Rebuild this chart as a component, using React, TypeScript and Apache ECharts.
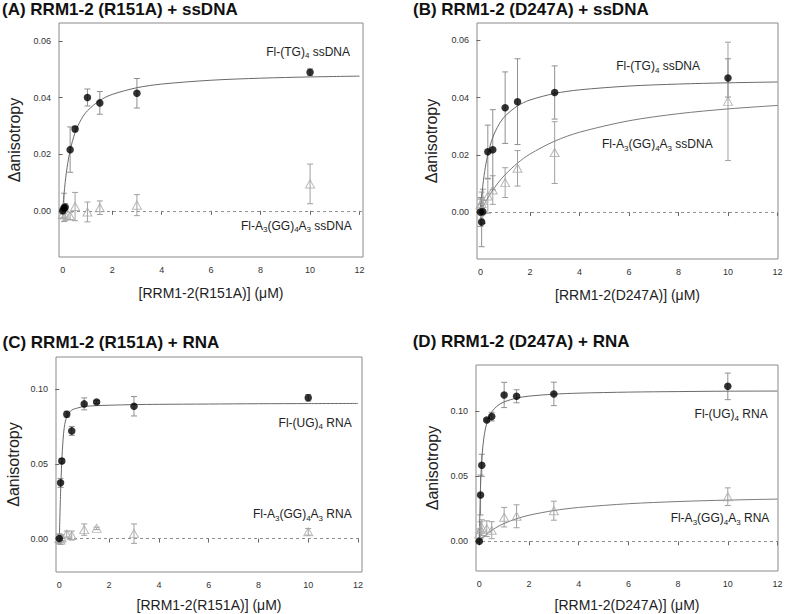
import { useEffect, useRef } from "react";
import * as echarts from "echarts";

// concentrations (uM) of the measured points
const conc = [0, 0.05, 0.1, 0.3, 0.5, 1, 1.5, 3, 10];
const fitX = [0, 0.05, 0.1, 0.15, 0.2, 0.3, 0.5, 0.75, 1, 1.5, 2, 3, 4, 6, 8, 10, 12];
const xTicks = [0, 2, 4, 6, 8, 10, 12];
const yTicksDNA = [0, 0.02, 0.04, 0.06];
const yTicksRNA = [0, 0.05, 0.1];

// (A) R151A + ssDNA
const aTG = [0, 0.001, 0.0013, 0.0216, 0.0289, 0.04, 0.0381, 0.0415, 0.0489];
const aTGErr = [0.001, 0.001, 0.0012, 0.008, 0.001, 0.003, 0.004, 0.0052, 0.0012];
const aGG = [-0.0013, 0.0012, -0.0015, -0.0018, 0.0015, -0.0004, 0.0011, 0.002, 0.0095];
const aGGErr = [0.0012, 0.005, 0.002, 0.0013, 0.005, 0.0035, 0.0024, 0.0037, 0.007];
const aTGFit = [0, 0.00558, 0.01002, 0.01364, 0.01664, 0.02135, 0.02758, 0.0323, 0.03532, 0.03897, 0.04109, 0.04345, 0.04474, 0.0461, 0.04682, 0.04726, 0.04755];

// (B) D247A + ssDNA
const bTG = [0, -0.0035, 0.0001, 0.0211, 0.0218, 0.0365, 0.0386, 0.0418, 0.0469];
const bTGErr = [0.005, 0.0086, 0.004, 0.0093, 0.014, 0.0125, 0.015, 0.0093, 0.0067];
const bGG = [0.0025, 0.003, 0.004, 0.0056, 0.0077, 0.0103, 0.0153, 0.0208, 0.0387];
const bGGErr = [0.002, 0.004, 0.004, 0.006, 0.005, 0.0052, 0.0062, 0.0108, 0.0207];
const bTGFit = [0, 0.00522, 0.0094, 0.01282, 0.01567, 0.02014, 0.02611, 0.03065, 0.03357, 0.03711, 0.03917, 0.04147, 0.04273, 0.04406, 0.04476, 0.04519, 0.04548];
const bGGFit = [0, 0.00091, 0.00178, 0.00261, 0.00342, 0.00494, 0.00767, 0.0106, 0.0131, 0.01714, 0.02027, 0.0248, 0.02791, 0.03192, 0.0344, 0.03607, 0.03728];

// (C) R151A + RNA
const cUG = [0, 0.0373, 0.052, 0.0833, 0.0721, 0.0902, 0.0915, 0.0886, 0.0943];
const cUGErr = [0.003, 0.003, 0.0015, 0.002, 0.003, 0.004, 0.001, 0.0065, 0.0022];
const cGG = [0, -0.001, 0.0005, 0.003, 0.002, 0.006, 0.0068, 0.0033, 0.0045];
const cGGErr = [0.003, 0.003, 0.002, 0.002, 0.003, 0.0038, 0.0008, 0.0065, 0.0022];
const cUGFit = [0, 0.03, 0.052, 0.066, 0.0745, 0.0815, 0.086, 0.0875, 0.0885, 0.089, 0.0893, 0.0897, 0.0899, 0.0901, 0.0903, 0.0904, 0.0905];

// (D) D247A + RNA
const dUG = [0, 0.0355, 0.0583, 0.0931, 0.0957, 0.1123, 0.1113, 0.1131, 0.1189];
const dUGErr = [0.001, 0.0153, 0.0085, 0.001, 0.0033, 0.0097, 0.005, 0.009, 0.0102];
const dGG = [0.0055, 0.009, 0.0105, 0.0097, 0.0085, 0.0185, 0.0192, 0.0235, 0.0342];
const dGGErr = [0.004, 0.006, 0.006, 0.006, 0.0065, 0.0075, 0.0088, 0.0073, 0.0068];
const dUGFit = [0, 0.043, 0.063, 0.074, 0.0815, 0.0905, 0.0992, 0.1043, 0.107, 0.1099, 0.1114, 0.1129, 0.1137, 0.1145, 0.1149, 0.1152, 0.1153];
const dGGFit = [0, 0.00106, 0.00206, 0.003, 0.00389, 0.00555, 0.00841, 0.01133, 0.0137, 0.01734, 0.02, 0.02362, 0.02596, 0.02883, 0.03051, 0.03162, 0.0324];

const FONT = '"Liberation Sans", Arial, Helvetica, sans-serif';

type Panel = {
  title: string;
  titleX: number;
  titleY: number;
  grid: { left: number; top: number; width: number; height: number };
  xRange: [number, number];
  yRange: [number, number];
  yTicks: number[];
  xName: string;
  xNameGap: number;
  yNameGap: number;
  filled: number[];
  filledErr: number[];
  open: number[];
  openErr: number[];
  filledFit: number[] | null;
  openFit: number[] | null;
  labelFilled: { pre: string; sub: string; post: string; right: number; y: number };
  labelOpen: { right: number; y: number; suffix: string };
};

const panels: Panel[] = [
  {
    title: "(A) RRM1-2 (R151A) + ssDNA",
    titleX: 2, titleY: 9.5,
    grid: { left: 59, top: 23, width: 304, height: 234 },
    xRange: [-0.15, 12.14], yRange: [-0.0163, 0.0663], yTicks: yTicksDNA,
    xName: "[RRM1-2(R151A)] (\u03bcM)", xNameGap: 29, yNameGap: 37,
    filled: aTG, filledErr: aTGErr, open: aGG, openErr: aGGErr,
    filledFit: aTGFit, openFit: null,
    labelFilled: { pre: "Fl-(TG)", sub: "4", post: " ssDNA", right: 350, y: 51.7 },
    labelOpen: { right: 351.7, y: 225.7, suffix: " ssDNA" },
  },
  {
    title: "(B) RRM1-2 (D247A) + ssDNA",
    titleX: 413, titleY: 9.5,
    grid: { left: 477, top: 23, width: 301, height: 236 },
    xRange: [-0.137, 12.02], yRange: [-0.0164, 0.0661], yTicks: yTicksDNA,
    xName: "[RRM1-2(D247A)] (\u03bcM)", xNameGap: 29, yNameGap: 38,
    filled: bTG, filledErr: bTGErr, open: bGG, openErr: bGGErr,
    filledFit: bTGFit, openFit: bGGFit,
    labelFilled: { pre: "Fl-(TG)", sub: "4", post: " ssDNA", right: 700, y: 66 },
    labelOpen: { right: 712.7, y: 144, suffix: " ssDNA" },
  },
  {
    title: "(C) RRM1-2 (R151A) + RNA",
    titleX: 2.5, titleY: 342,
    grid: { left: 56, top: 357, width: 306, height: 215 },
    xRange: [-0.133, 12.16], yRange: [-0.0224, 0.1216], yTicks: yTicksRNA,
    xName: "[RRM1-2(R151A)] (\u03bcM)", xNameGap: 26, yNameGap: 34.5,
    filled: cUG, filledErr: cUGErr, open: cGG, openErr: cGGErr,
    filledFit: cUGFit, openFit: null,
    labelFilled: { pre: "Fl-(UG)", sub: "4", post: " RNA", right: 351.7, y: 422.7 },
    labelOpen: { right: 351.7, y: 514.3, suffix: " RNA" },
  },
  {
    title: "(D) RRM1-2 (D247A) + RNA",
    titleX: 412.7, titleY: 341.5,
    grid: { left: 476, top: 365, width: 302, height: 206 },
    xRange: [-0.133, 12.02], yRange: [-0.0228, 0.1353], yTicks: yTicksRNA,
    xName: "[RRM1-2(D247A)] (\u03bcM)", xNameGap: 26.5, yNameGap: 36,
    filled: dUG, filledErr: dUGErr, open: dGG, openErr: dGGErr,
    filledFit: dUGFit, openFit: dGGFit,
    labelFilled: { pre: "Fl-(UG)", sub: "4", post: " RNA", right: 767.7, y: 414 },
    labelOpen: { right: 769.3, y: 518.3, suffix: " RNA" },
  },
];

const errRender = (color: string) => (params: any, api: any) => {
  const x = api.value(0);
  const y = api.value(1);
  const e = api.value(2);
  const top = api.coord([x, y + e]);
  const bot = api.coord([x, y - e]);
  const hw = 3;
  const st = { stroke: color, lineWidth: 1 };
  return {
    type: "group",
    children: [
      { type: "line", shape: { x1: top[0], y1: top[1], x2: bot[0], y2: bot[1] }, style: st },
      { type: "line", shape: { x1: top[0] - hw, y1: top[1], x2: top[0] + hw, y2: top[1] }, style: st },
      { type: "line", shape: { x1: bot[0] - hw, y1: bot[1], x2: bot[0] + hw, y2: bot[1] }, style: st },
    ],
  };
};

const rich = {
  n: { fontSize: 12, fontFamily: FONT, fill: "#222", lineHeight: 16, verticalAlign: "middle" },
  s: { fontSize: 8, fontFamily: FONT, fill: "#222", lineHeight: 8, verticalAlign: "bottom" },
};

export default function App() {
  const ref = useRef<HTMLDivElement>(null);
  useEffect(() => {
    document.body.style.margin = "0";
    if (!ref.current) return;
    const chart = echarts.init(ref.current, undefined, { renderer: "svg" });

    const grids: any[] = [];
    const xAxes: any[] = [];
    const yAxes: any[] = [];
    const series: any[] = [];
    const graphics: any[] = [];

    panels.forEach((p, i) => {
      grids.push({ ...p.grid, show: true, borderColor: "#8a8a8a", borderWidth: 1, backgroundColor: "transparent" });
      xAxes.push({
        type: "value", gridIndex: i, min: p.xRange[0], max: p.xRange[1],
        axisLine: { show: false },
        axisTick: { show: true, length: 4, customValues: xTicks, lineStyle: { color: "#666" } },
        axisLabel: { customValues: xTicks, fontSize: 9, color: "#333", fontFamily: FONT, margin: 8 },
        splitLine: { show: false },
        name: p.xName, nameLocation: "middle", nameGap: p.xNameGap,
        nameTextStyle: { fontSize: 14, color: "#222", fontFamily: FONT },
      });
      yAxes.push({
        type: "value", gridIndex: i, min: p.yRange[0], max: p.yRange[1],
        axisLine: { show: false },
        axisTick: { show: true, length: 4, customValues: p.yTicks, lineStyle: { color: "#666" } },
        axisLabel: {
          customValues: p.yTicks, fontSize: 9, color: "#333", fontFamily: FONT, margin: 8,
          formatter: (v: number) => v.toFixed(2),
        },
        splitLine: { show: false },
        name: "\u0394anisotropy", nameLocation: "middle", nameGap: p.yNameGap,
        nameTextStyle: { fontSize: 16, color: "#222", fontFamily: FONT },
      });

      const openData = conc.map((x, k) => [x, p.open[k], p.openErr[k]]);
      const filledData = conc.map((x, k) => [x, p.filled[k], p.filledErr[k]]);

      series.push({
        type: "custom", xAxisIndex: i, yAxisIndex: i, renderItem: errRender("#a0a0a0"),
        data: openData, encode: { x: 0, y: 1 }, z: 2, silent: true,
      });
      series.push({
        type: "custom", xAxisIndex: i, yAxisIndex: i, renderItem: errRender("#909090"),
        data: filledData, encode: { x: 0, y: 1 }, z: 2, silent: true,
      });
      if (p.openFit) {
        series.push({
          type: "line", xAxisIndex: i, yAxisIndex: i, showSymbol: false, symbol: "none",
          smooth: 0.3, data: fitX.map((x, k) => [x, p.openFit![k]]),
          lineStyle: { color: "#7a7a7a", width: 1 }, z: 3, silent: true,
        });
      }
      if (p.filledFit) {
        series.push({
          type: "line", xAxisIndex: i, yAxisIndex: i, showSymbol: false, symbol: "none",
          smooth: 0.3, data: fitX.map((x, k) => [x, p.filledFit![k]]),
          lineStyle: { color: "#6a6a6a", width: 1 }, z: 3, silent: true,
        });
      }
      series.push({
        type: "scatter", xAxisIndex: i, yAxisIndex: i, symbol: "triangle", symbolSize: [9, 8],
        data: openData.map((d) => [d[0], d[1]]),
        itemStyle: { color: "rgba(255,255,255,0)", borderColor: "#a8a8a8", borderWidth: 1 }, z: 4,
      });
      series.push({
        type: "scatter", xAxisIndex: i, yAxisIndex: i, symbol: "circle", symbolSize: 7.5,
        data: filledData.map((d) => [d[0], d[1]]),
        itemStyle: { color: "#000" }, z: 5,
        markLine: {
          silent: true, symbol: "none", label: { show: false },
          lineStyle: { type: [3, 3], color: "#909090", width: 1 },
          data: [{ yAxis: 0 }], z: 1,
        },
      });

      graphics.push({
        type: "text", x: p.titleX, y: p.titleY,
        style: {
          text: p.title, fontSize: 17, fontWeight: "bold", fontFamily: FONT, fill: "#111",
          verticalAlign: "middle", align: "left",
        },
      });
      const lf = p.labelFilled;
      graphics.push({
        type: "text", x: lf.right, y: lf.y,
        style: {
          text: `{n|${lf.pre}}{s|${lf.sub}}{n|${lf.post}}`, rich,
          align: "right", verticalAlign: "middle",
        },
      });
      const lo = p.labelOpen;
      graphics.push({
        type: "text", x: lo.right, y: lo.y,
        style: {
          text: `{n|Fl-A}{s|3}{n|(GG)}{s|4}{n|A}{s|3}{n|${lo.suffix}}`, rich,
          align: "right", verticalAlign: "middle",
        },
      });
    });

    chart.setOption({
      animation: false,
      backgroundColor: "#fff",
      grid: grids,
      xAxis: xAxes,
      yAxis: yAxes,
      series,
      graphic: graphics,
    });
    return () => chart.dispose();
  }, []);
  return <div ref={ref} style={{ width: 787, height: 614, position: "absolute", left: 0, top: 0 }} />;
}
